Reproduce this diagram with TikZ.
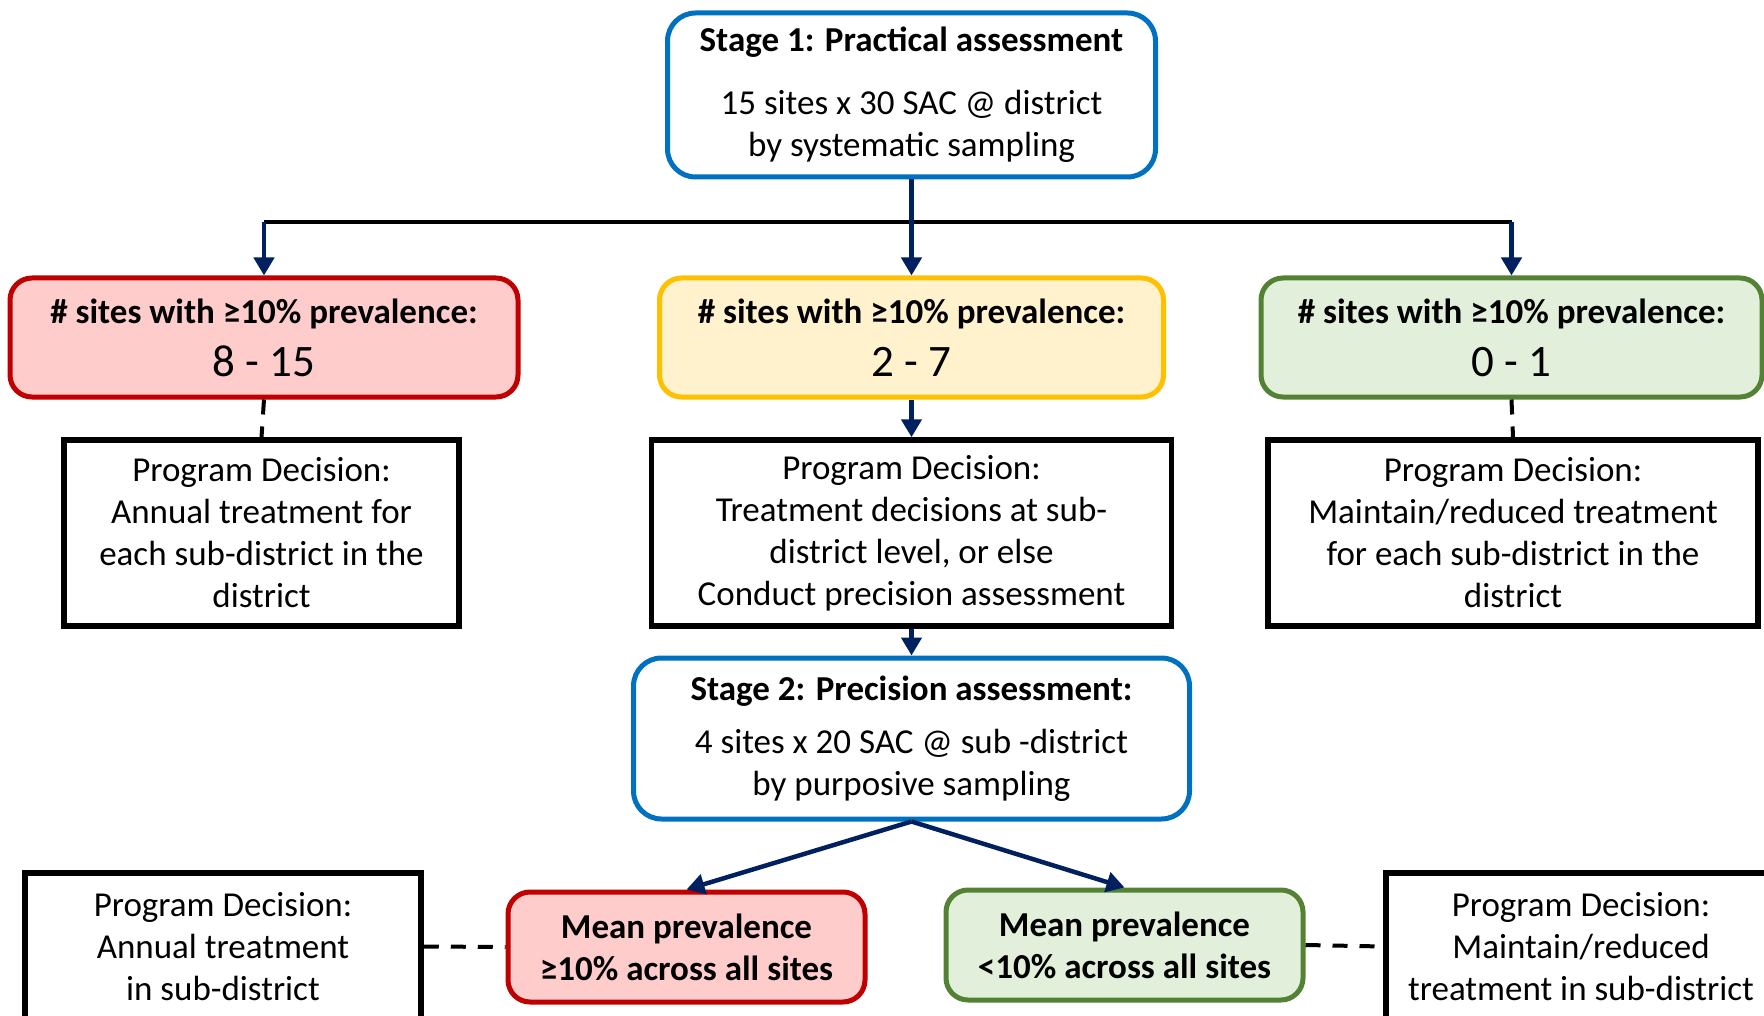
\documentclass[tikz,border=0pt]{standalone}
\usepackage{fontspec}
\setmainfont{Carlito}
\usetikzlibrary{arrows.meta}
\definecolor{stageblue}{HTML}{0070C0}
\definecolor{navy}{HTML}{002060}
\definecolor{redline}{HTML}{C00000}
\definecolor{redfill}{HTML}{FFCCCC}
\definecolor{yelline}{HTML}{FFC000}
\definecolor{yelfill}{HTML}{FFF2CC}
\definecolor{grnline}{HTML}{548235}
\definecolor{grnfill}{HTML}{E2EFDA}
\begin{document}
\begin{tikzpicture}[x=1pt,y=-1pt,
  basefont/.style={font=\fontsize{35}{42}\selectfont},
  stagebox/.style={basefont, draw=stageblue, line width=5pt, rounded corners=28pt, fill=white, align=center, inner sep=0pt},
  resbox/.style={basefont, line width=5pt, rounded corners=22pt, align=center, inner sep=0pt},
  redbox/.style={resbox, draw=redline, fill=redfill},
  yelbox/.style={resbox, draw=yelline, fill=yelfill},
  grnbox/.style={resbox, draw=grnline, fill=grnfill},
  decbox/.style={basefont, draw=black, line width=5.5pt, fill=white, align=center, inner sep=0pt},
  navyarrow/.style={draw=navy, line width=4.5pt, -{Triangle[length=18pt,width=20pt]}},
  dashline/.style={draw=black, line width=4pt, dash pattern=on 15pt off 12pt}
]
\useasboundingbox (0,0) rectangle (1764,1016);

\node[stagebox, minimum width=488pt, minimum height=164pt] (s1) at (911.5,95)
  {\textbf{Stage 1: Practical assessment}\\[21pt]15 sites x 30 SAC @ district\\by systematic sampling};

\node[redbox, minimum width=508pt, minimum height=119pt] (red) at (264,337.5)
  {\textbf{\# sites with ≥10\% prevalence:}\\[11pt]{\fontsize{45}{50}\selectfont 8 - 15}};
\node[yelbox, minimum width=504pt, minimum height=119pt] (yel) at (911.5,337.5)
  {\textbf{\# sites with ≥10\% prevalence:}\\[11pt]{\fontsize{45}{50}\selectfont 2 - 7}};
\node[grnbox, minimum width=501pt, minimum height=119pt] (grn) at (1511.5,337.5)
  {\textbf{\# sites with ≥10\% prevalence:}\\[11pt]{\fontsize{45}{50}\selectfont 0 - 1}};

\node[decbox, minimum width=395pt, minimum height=186pt] (decL) at (261.5,533)
  {Program Decision:\\Annual treatment for\\each sub-district in the\\district};
\node[decbox, minimum width=520pt, minimum height=186pt] (decM) at (911.5,533)
  {Program Decision:\\Treatment decisions at sub-\\district level, or else\\Conduct precision assessment};
\node[decbox, minimum width=490pt, minimum height=186pt] (decR) at (1513,533)
  {Program Decision:\\Maintain/reduced treatment\\for each sub-district in the\\district};

\node[stagebox, minimum width=556pt, minimum height=161pt] (s2) at (911.5,738.5)
  {\textbf{Stage 2: Precision assessment:}\\[11pt]4 sites x 20 SAC @ sub -district\\by purposive sampling};

\node[redbox, minimum width=357pt, minimum height=110pt] (meanR) at (686.5,947)
  {\textbf{Mean prevalence}\\\textbf{≥10\% across all sites}};
\node[grnbox, minimum width=357pt, minimum height=110pt] (meanG) at (1124.5,945)
  {\textbf{Mean prevalence}\\\textbf{<10\% across all sites}};

\node[decbox, minimum width=396pt, minimum height=147pt] (decBL) at (223,946.5)
  {Program Decision:\\Annual treatment\\in sub-district};
\node[decbox, minimum width=390pt, minimum height=147pt] (decBR) at (1581,946.5)
  {Program Decision:\\Maintain/reduced\\treatment in sub-district};

% connectors
\coordinate (j) at (911.5,222);
\draw[black, line width=4pt] (red.north |- j) -- (grn.north |- j);
\draw[navyarrow] (s1.south) -- (yel.north);
\draw[navyarrow] (red.north |- j) -- (red.north);
\draw[navyarrow] (grn.north |- j) -- (grn.north);
\draw[navyarrow] (yel.south) -- (decM.north);
\draw[navyarrow] (decM.south) -- (s2.north);
\draw[navyarrow] (s2.south) -- (meanR.north);
\draw[navyarrow] (s2.south) -- (meanG.north);
\draw[dashline] (red.south) -- (decL.north);
\draw[dashline] (grn.south) -- (decR.north);
\draw[dashline] (decBL.east) -- (meanR.west);
\draw[dashline] (meanG.east) -- (decBR.west);
\end{tikzpicture}
\end{document}
